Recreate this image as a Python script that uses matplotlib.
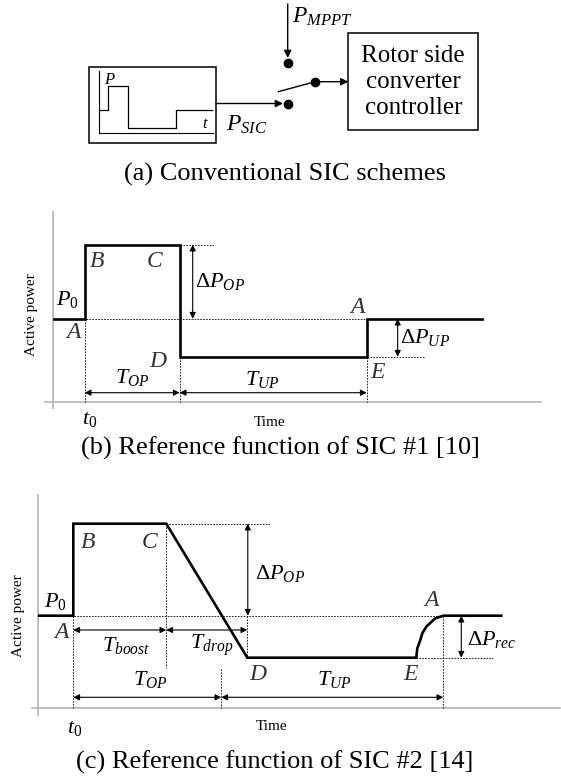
import numpy as np
import matplotlib
matplotlib.use("Agg")
import matplotlib.pyplot as plt
from matplotlib.patches import Rectangle

plt.rcParams['font.family'] = ['Liberation Serif', 'DejaVu Serif']
plt.rcParams['mathtext.fontset'] = 'custom'
plt.rcParams['mathtext.rm'] = 'Liberation Serif'
plt.rcParams['mathtext.it'] = 'Liberation Serif:italic'

W, H = 561, 778

# ---- data (time units / power units) ----
# (a) mini reference inside the SIC box
mini_time = [0.0, 0.93, 0.93, 2.93, 2.93, 7.7, 7.7, 11.27]
mini_power = [2.33, 2.33, 4.76, 4.76, 0.5, 0.5, 2.33, 2.33]

# (b) SIC #1
b_time = [0.1, 3.2, 3.2, 12.7, 12.7, 31.4, 31.4, 42.9]
b_power = [0.83, 0.83, 1.57, 1.57, 0.45, 0.45, 0.83, 0.83]

# (c) SIC #2 (boost, linear drop, underproduction, smooth recovery)
c_time = [0.1, 3.5, 3.5, 12.8, 20.9, 37.8, 37.9, 38.2, 38.4, 38.8, 39.7, 40.5, 46.3]
c_power = [0.92, 0.92, 1.84, 1.84, 0.50, 0.50, 0.594, 0.677, 0.744, 0.81, 0.894, 0.92, 0.92]
c_t_op_end = 18.3

captions = ["(a) Conventional SIC schemes",
            "(b) Reference function of SIC #1 [10]",
            "(c) Reference function of SIC #2 [14]"]
box_text = "Rotor side\nconverter\ncontroller"

fig = plt.figure(figsize=(W / 100, H / 100), dpi=100)

# overlay axes in pixel coords, for the block diagram and captions
ov = fig.add_axes([0, 0, 1, 1])
ov.set_xlim(0, W)
ov.set_ylim(H, 0)
ov.axis('off')


def panel_axes(ox, oy, right, top, sx=10.0, sy=100.0):
    ax = fig.add_axes([ox / W, 1 - oy / H, (right - ox) / W, (oy - top) / H])
    ax.set_xlim(0, (right - ox) / sx)
    ax.set_ylim(0, (oy - top) / sy)
    ax.axis('off')
    return ax


def dashed(ax, xs, ys):
    ax.plot(xs, ys, color='black', lw=0.6, ls=(0, (2, 1.5)), clip_on=False)


def darrow(ax, p1, p2):
    ax.annotate('', xy=p2, xytext=p1,
                arrowprops=dict(arrowstyle='<|-|>', color='black', lw=0.8,
                                mutation_scale=9, shrinkA=0, shrinkB=0))


def letter(ax, x, y, s):
    ax.text(x, y, s, fontsize=17, style='italic', color='#333333',
            ha='center', va='center')


def gray_axes(ax, xl, yl):
    xmax = ax.get_xlim()[1]
    ymax = ax.get_ylim()[1]
    ax.plot([xl, xmax], [0, 0], color='#b5b5b5', lw=1.2, clip_on=False)
    ax.plot([0, 0], [yl, ymax], color='#b5b5b5', lw=1.2, clip_on=False)


# ================= (a) =================
ov.add_patch(Rectangle((89.3, 66.7), 126.7, 76.6, fill=False, lw=1.1, ec='black'))
ov.add_patch(Rectangle((348.3, 33.3), 130, 96.7, fill=False, lw=1.1, ec='black'))
ov.text(413.3, 82, box_text, fontsize=18, ha='center', va='center', linespacing=1.22)

mini = fig.add_axes([99 / W, 1 - 133.3 / H, (212.7 - 99) / W, (133.3 - 71) / H])
mini.set_xlim(0, 11.37)
mini.set_ylim(0, 6.23)
mini.axis('off')
mini.plot([0, 0], [0, 6.23], color='black', lw=0.8, clip_on=False)
mini.plot([0, 11.37], [0, 0], color='black', lw=0.8, clip_on=False)
mini.plot(mini_time, mini_power, color='black', lw=0.9, clip_on=False)
mini.text(0.45, 5.3, '$P$', fontsize=12, ha='left', va='center')
mini.text(11.0, 0.9, '$t$', fontsize=12, ha='right', va='center')

arr = dict(arrowstyle='-|>', color='black', lw=1.0, mutation_scale=11, shrinkA=0, shrinkB=0)
ov.annotate('', xy=(283, 103.5), xytext=(216, 103.5), arrowprops=arr)
ov.annotate('', xy=(287.7, 58), xytext=(287.7, 4), arrowprops=arr)
ov.plot([287.7, 287.7], [63.3, 104], 'o', color='black', ms=6, ls='none')
ov.plot([278.3, 315], [91.7, 81.7], color='black', lw=1.0)
ov.plot([315], [81.7], 'o', color='black', ms=6)
ov.annotate('', xy=(348.3, 81.7), xytext=(315, 81.7), arrowprops=arr)
ov.text(292, 17, '$P_{MPPT}$', fontsize=17, ha='left', va='center')
ov.text(226, 125, '$P_{SIC}$', fontsize=17, ha='left', va='center')

# ================= (b) =================
axb = panel_axes(52.7, 401.7, 541, 212)
gray_axes(axb, -0.77, -0.063)
dashed(axb, [0.1, 31.4], [0.83, 0.83])
dashed(axb, [12.7, 16.2], [1.57, 1.57])
dashed(axb, [31.4, 37.2], [0.45, 0.45])
dashed(axb, [3.2, 3.2], [0.83, 0])
dashed(axb, [12.7, 12.7], [0.45, 0])
dashed(axb, [31.4, 31.4], [0.45, 0])
axb.plot(b_time, b_power, color='black', lw=1.9, solid_joinstyle='miter', clip_on=False)
darrow(axb, (14.0, 1.57), (14.0, 0.83))
darrow(axb, (34.5, 0.83), (34.5, 0.45))
darrow(axb, (3.2, 0.09), (12.7, 0.09))
darrow(axb, (12.7, 0.09), (31.4, 0.09))
letter(axb, 4.43, 1.40, 'B')
letter(axb, 10.23, 1.40, 'C')
letter(axb, 2.03, 0.69, 'A')
letter(axb, 10.53, 0.40, 'D')
letter(axb, 32.43, 0.29, 'E')
letter(axb, 30.43, 0.94, 'A')
axb.text(1.5, 1.02, '$P_0$', fontsize=16, ha='center', va='center')
axb.text(16.7, 1.20, r'$\Delta P_{OP}$', fontsize=16, ha='center', va='center')
axb.text(37.2, 0.64, r'$\Delta P_{UP}$', fontsize=16, ha='center', va='center')
axb.text(8.0, 0.24, '$T_{OP}$', fontsize=16, ha='center', va='center')
axb.text(21.0, 0.22, '$T_{UP}$', fontsize=16, ha='center', va='center')
axb.text(3.73, -0.18, '$t_0$', fontsize=16, ha='center', va='center')
axb.text(21.7, -0.21, 'Time', fontsize=11, ha='center', va='center')
axb.text(-2.1, 0.87, 'Active power', fontsize=11, rotation=90, ha='center', va='center')

# ================= (c) =================
axc = panel_axes(38.3, 707.7, 560, 495)
gray_axes(axc, -0.66, -0.073)
dashed(axc, [0.1, 40.5], [0.92, 0.92])
dashed(axc, [12.8, 23.2], [1.84, 1.84])
dashed(axc, [37.8, 45.5], [0.50, 0.50])
dashed(axc, [3.5, 3.5], [0.92, 0])
dashed(axc, [12.8, 12.8], [1.84, 0.40])
dashed(axc, [20.9, 20.9], [0.92, 0.50])
dashed(axc, [c_t_op_end, c_t_op_end], [0.39, 0])
dashed(axc, [40.5, 40.5], [0.92, 0])
axc.plot(c_time, c_power, color='black', lw=1.9, solid_joinstyle='miter', clip_on=False)
darrow(axc, (20.95, 1.84), (20.95, 0.92))
darrow(axc, (42.3, 0.92), (42.3, 0.50))
darrow(axc, (3.5, 0.777), (12.8, 0.777))
darrow(axc, (12.8, 0.777), (20.9, 0.777))
darrow(axc, (3.5, 0.104), (c_t_op_end, 0.104))
darrow(axc, (c_t_op_end, 0.104), (40.5, 0.104))
letter(axc, 4.97, 1.657, 'B')
letter(axc, 11.17, 1.657, 'C')
letter(axc, 2.34, 0.747, 'A')
letter(axc, 21.97, 0.327, 'D')
letter(axc, 37.17, 0.327, 'E')
letter(axc, 39.34, 1.077, 'A')
axc.text(1.75, 1.057, '$P_0$', fontsize=16, ha='center', va='center')
axc.text(8.8, 0.627, '$T_{boost}$', fontsize=16, ha='center', va='center')
axc.text(17.3, 0.627, '$T_{drop}$', fontsize=16, ha='center', va='center')
axc.text(24.2, 1.347, r'$\Delta P_{OP}$', fontsize=16, ha='center', va='center')
axc.text(45.3, 0.677, r'$\Delta P_{rec}$', fontsize=16, ha='center', va='center')
axc.text(11.2, 0.277, '$T_{OP}$', fontsize=16, ha='center', va='center')
axc.text(29.6, 0.277, '$T_{UP}$', fontsize=16, ha='center', va='center')
axc.text(3.67, -0.203, '$t_0$', fontsize=16, ha='center', va='center')
axc.text(23.3, -0.193, 'Time', fontsize=11, ha='center', va='center')
axc.text(-1.98, 0.92, 'Active power', fontsize=11, rotation=90, ha='center', va='center')

# ---- captions ----
ov.text(285, 174, captions[0], fontsize=19, ha='center', va='center')
ov.text(280, 448, captions[1], fontsize=19, ha='center', va='center')
ov.text(275, 762, captions[2], fontsize=19, ha='center', va='center')

fig.savefig('out.png', dpi=100)
